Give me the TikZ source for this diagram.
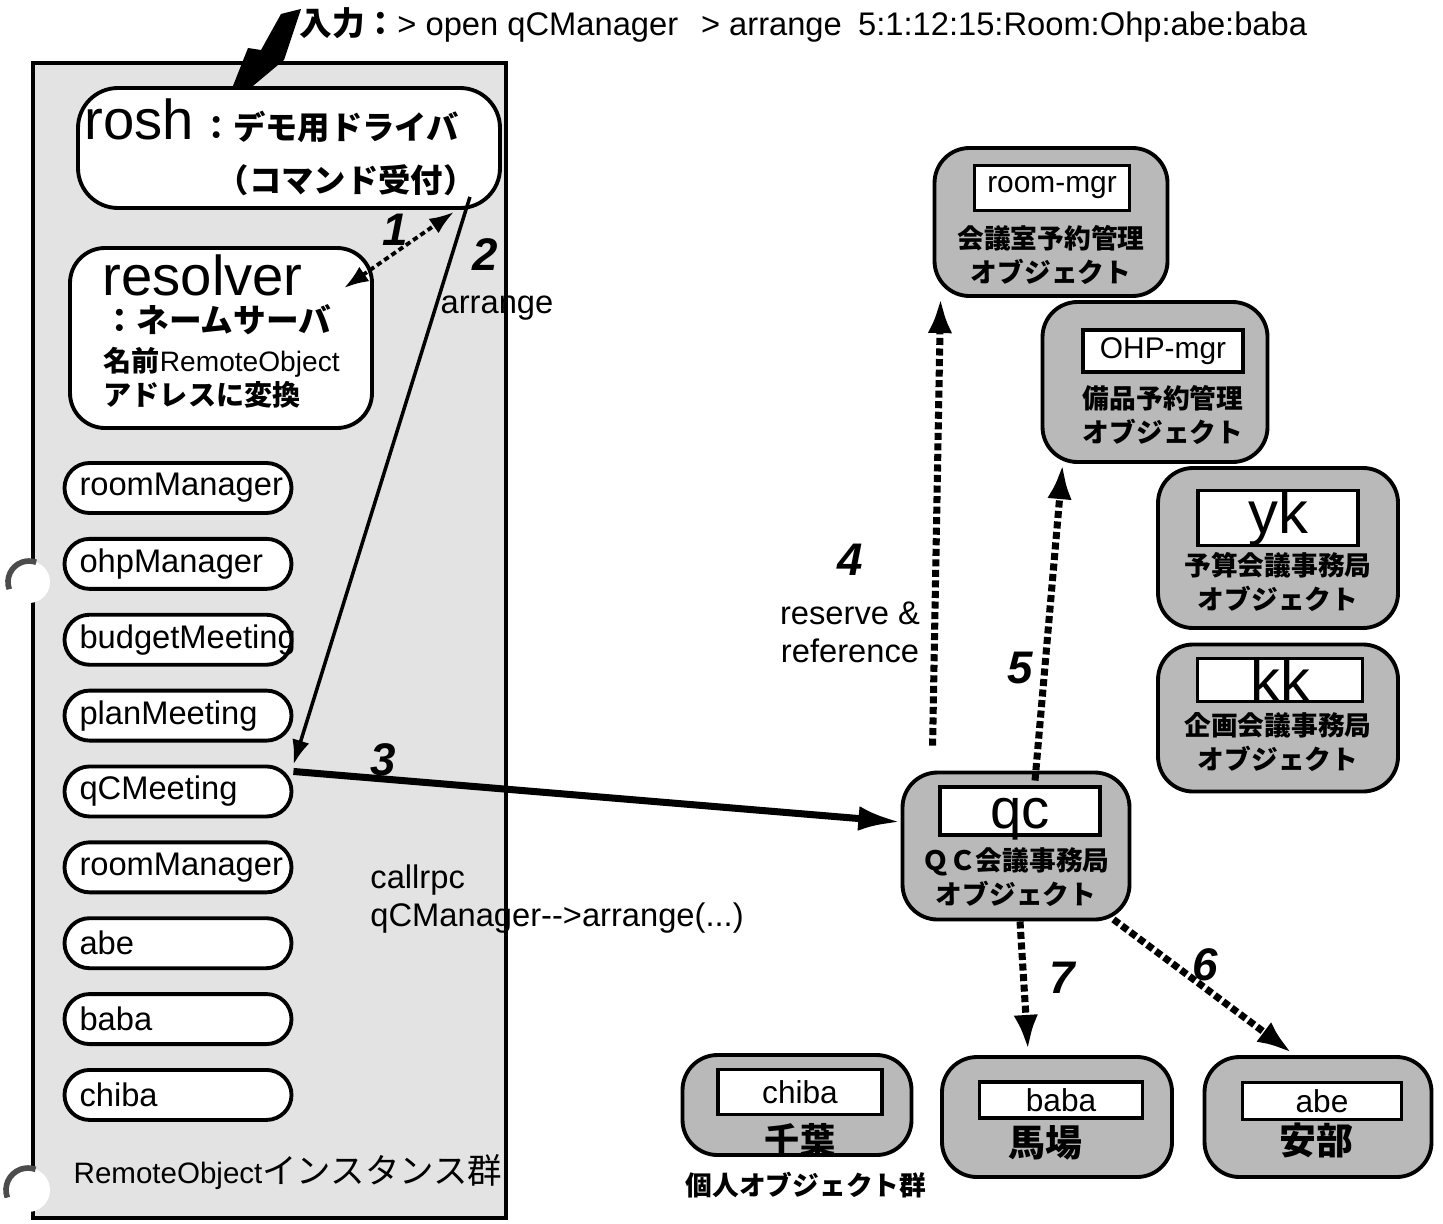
\documentclass[tikz,border=0pt]{standalone}
\usepackage{fontspec}
\setmainfont{Liberation Sans}
\newfontfamily\jp{Noto Sans CJK JP}
\usetikzlibrary{arrows.meta, positioning, calc}

\begin{document}
\begin{tikzpicture}[x=0.1mm, y=-0.1mm, node distance=2.2mm,
    panel/.style={draw, line width=1.2pt, fill=gray!22},
    whitebox/.style={draw, line width=1.1pt, fill=white, rounded corners=4mm},
    pill/.style={whitebox, rounded corners=2.5mm, minimum width=22.7mm, minimum height=5mm,
      inner sep=0pt, text width=19.7mm, align=left, font=\fontsize{9.3}{11}\selectfont},
    objbox/.style={draw, line width=1.1pt, fill=gray!55, rounded corners=3.5mm},
    namebox/.style={draw, line width=0.9pt, fill=white, inner sep=0pt},
    objtext/.style={font=\jp\bfseries\fontsize{7.6}{9.7}\selectfont, align=center},
    steplabel/.style={font=\bfseries\itshape\fontsize{13}{13}\selectfont},
    plain/.style={font=\fontsize{9.3}{10.8}\selectfont, align=left},
    dotarrow/.style={line width=2pt, dash pattern=on 2pt off 1pt, -{Latex[length=10pt, width=7pt]}},
  ]
  \useasboundingbox (0,0) rectangle (1443,1223);

  % RemoteObject panel
  \draw[panel] (33,63) rectangle (506,1218);
  \fill[white] (29,582) circle (2.1mm);
  \draw[line width=1.6pt, gray!60!black] (29,582) ++(200:2.1mm) arc (200:70:2.1mm);
  \fill[white] (28,1190) circle (2.2mm);
  \draw[line width=1.6pt, gray!60!black] (28,1190) ++(200:2.2mm) arc (200:70:2.2mm);

  % input
  \node[anchor=west, font=\fontsize{9.3}{9.3}\selectfont] (input) at (287,25)
    {{\jp\bfseries 入力：}> open qCManager\hspace{0.7em}> arrange\hspace{0.5em}5:1:12:15:Room:Ohp:abe:baba};
  \fill (281,14) -- (301,9) -- (284,60) -- (223,111) -- (248,48) -- (261,50) -- cycle;

  % rosh and resolver
  \node[whitebox, minimum width=42.2mm, minimum height=12mm] (rosh) at (289,148) {};
  \node[anchor=base west, inner sep=0pt, font=\fontsize{16}{16}\selectfont] (roshname) at (84,140) {rosh};
  \node[anchor=base west, inner sep=0pt, font=\jp\bfseries\fontsize{9.2}{9.2}\selectfont] (roshjp) at (200,140) {：デモ用ドライバ};
  \node[font=\jp\bfseries\fontsize{9.2}{9.2}\selectfont] (roshcmd) at (346,180) {（コマンド受付）};

  \node[whitebox, rounded corners=3.5mm, minimum width=30.2mm, minimum height=18mm] (resolver) at (221,338) {};
  \node[anchor=west, inner sep=0pt, font=\fontsize{16}{16}\selectfont] (resname) at (102,275) {resolver};
  \node[anchor=west, inner sep=0pt, font=\jp\bfseries\fontsize{9.3}{9.3}\selectfont] (resjp) at (103,320) {：ネームサーバ};
  \node[anchor=west, inner sep=0pt, font=\fontsize{8}{8}\selectfont] (resline) at (103,362) {{\jp\bfseries 名前}RemoteObject};
  \node[anchor=west, inner sep=0pt, font=\jp\bfseries\fontsize{8}{8}\selectfont] (resaddr) at (103,395) {アドレスに変換};

  % instances
  \node[pill] (p1) at (178,488) {roomManager};
  \node[pill, below=of p1] (p2) {ohpManager};
  \node[pill, below=of p2] (p3) {budgetMeeting};
  \node[pill, below=of p3] (p4) {planMeeting};
  \node[pill, below=of p4] (p5) {qCMeeting};
  \node[pill, below=of p5] (p6) {roomManager};
  \node[pill, below=of p6] (p7) {abe};
  \node[pill, below=of p7] (p8) {baba};
  \node[pill, below=of p8] (p9) {chiba};
  \node[anchor=west, inner sep=0pt, font=\fontsize{8.4}{8.4}\selectfont] (group) at (73,1172)
    {RemoteObject{\jp\fontsize{9.8}{9.8}\selectfont インスタンス群}};

  % objects
  \node[objbox, minimum width=23.3mm, minimum height=14.8mm] (roommgr) at (1051,222) {};
  \node[namebox, minimum width=15.5mm, minimum height=4.5mm, font=\fontsize{8.5}{8.5}\selectfont] (roommgrname) at (1052,188) {room-mgr};
  \node[objtext] (roommgrjp) at (1051,255) {会議室予約管理\\オブジェクト};

  \node[objbox, minimum width=22.5mm, minimum height=16mm] (ohpmgr) at (1155,382) {};
  \node[namebox, minimum width=16mm, minimum height=4.2mm, font=\fontsize{8.5}{8.5}\selectfont] (ohpmgrname) at (1163,351) {OHP-mgr};
  \node[objtext] (ohpmgrjp) at (1163,415) {備品予約管理\\オブジェクト};

  \node[objbox, minimum width=24mm, minimum height=16mm] (yk) at (1278,548) {};
  \node[namebox, minimum width=16mm, minimum height=5.3mm, font=\fontsize{17}{17}\selectfont] (ykname) at (1278,518) {yk};
  \node[objtext] (ykjp) at (1278,582) {予算会議事務局\\オブジェクト};

  \node[objbox, minimum width=24mm, minimum height=14.7mm] (kk) at (1278,718) {};
  \node[namebox, minimum width=16.5mm, minimum height=4mm, font=\fontsize{17}{17}\selectfont] (kkname) at (1280,680) {kk};
  \node[objtext] (kkjp) at (1278,742) {企画会議事務局\\オブジェクト};

  \node[objbox, minimum width=22.7mm, minimum height=14.7mm] (qc) at (1016,846) {};
  \node[namebox, minimum width=16mm, minimum height=4.8mm, text height=3.8mm, text depth=0.4mm,
    font=\fontsize{16}{16}\selectfont] (qcname) at (1020,811) {qc};
  \node[objtext] (qcjp) at (1016,877) {ＱＣ会議事務局\\オブジェクト};

  \node[objbox, minimum width=22.9mm, minimum height=10mm] (chiba) at (797,1105) {};
  \node[namebox, minimum width=16.4mm, minimum height=4.5mm, font=\fontsize{9}{9}\selectfont] (chibaname) at (800,1092) {chiba};
  \node[font=\jp\bfseries\fontsize{10}{10}\selectfont] (chibajp) at (800,1140) {千葉};
  \node[objtext] (personal) at (806,1185) {個人オブジェクト群};

  \node[objbox, minimum width=23mm, minimum height=12mm] (baba) at (1057,1117) {};
  \node[namebox, minimum width=16.3mm, minimum height=3.6mm, font=\fontsize{9}{9}\selectfont] (babaname) at (1061,1100) {baba};
  \node[font=\jp\bfseries\fontsize{10.5}{10.5}\selectfont] (babajp) at (1045,1143) {馬場};

  \node[objbox, minimum width=22.7mm, minimum height=12mm] (abe) at (1318,1117) {};
  \node[namebox, minimum width=15.9mm, minimum height=3.7mm, font=\fontsize{9}{9}\selectfont] (abename) at (1322,1101) {abe};
  \node[font=\jp\bfseries\fontsize{10.5}{10.5}\selectfont] (abejp) at (1316,1140) {安部};

  % calls
  \draw[line width=1.1pt, dash pattern=on 1.5pt off 1pt, {Latex[length=7pt, width=5pt]}-{Latex[length=7pt, width=5pt]}]
    ($(resolver.north east)+(-30,42)$) -- ($(rosh.south east)+(-48,2)$);
  \draw[line width=1pt, -{Latex[length=7pt, width=5pt]}] ($(rosh.south east)+(-32,-13)$) -- (p5.north east);
  \draw[line width=2pt, -{Latex[length=12pt, width=7pt]}] ($(p5.east)+(0,-20)$) -- ($(qc.west)+(0,-24)$);
  \draw[dotarrow] ($(qc.north west)+(32,-25)$) -- ($(roommgr.south west)+(8,0)$);
  \draw[dotarrow] ($(qc.north)+(19,10)$) -- ($(ohpmgr.south west)+(22,0)$);
  \draw[dotarrow] ($(qc.south east)+(-18,-2)$) -- ($(abe.north)+(-26,-2)$);
  \draw[dotarrow] ($(qc.south)+(4,0)$) -- ($(baba.north)+(-29,-5)$);

  % labels
  \node[steplabel] (n1) at (395,230) {1};
  \node[steplabel] (n2) at (485,255) {2};
  \node[plain] (arrange) at (497,308) {arrange};
  \node[steplabel] (n3) at (383,760) {3};
  \node[plain, anchor=west] (callrpc) at (358,899) {callrpc\\qCManager-{}->arrange(...)};
  \node[steplabel] (n4) at (850,560) {4};
  \node[plain, align=center] (reserve) at (850,632) {reserve \&\\reference};
  \node[steplabel] (n5) at (1020,668) {5};
  \node[steplabel] (n6) at (1205,965) {6};
  \node[steplabel] (n7) at (1062,978) {7};
\end{tikzpicture}
\end{document}
